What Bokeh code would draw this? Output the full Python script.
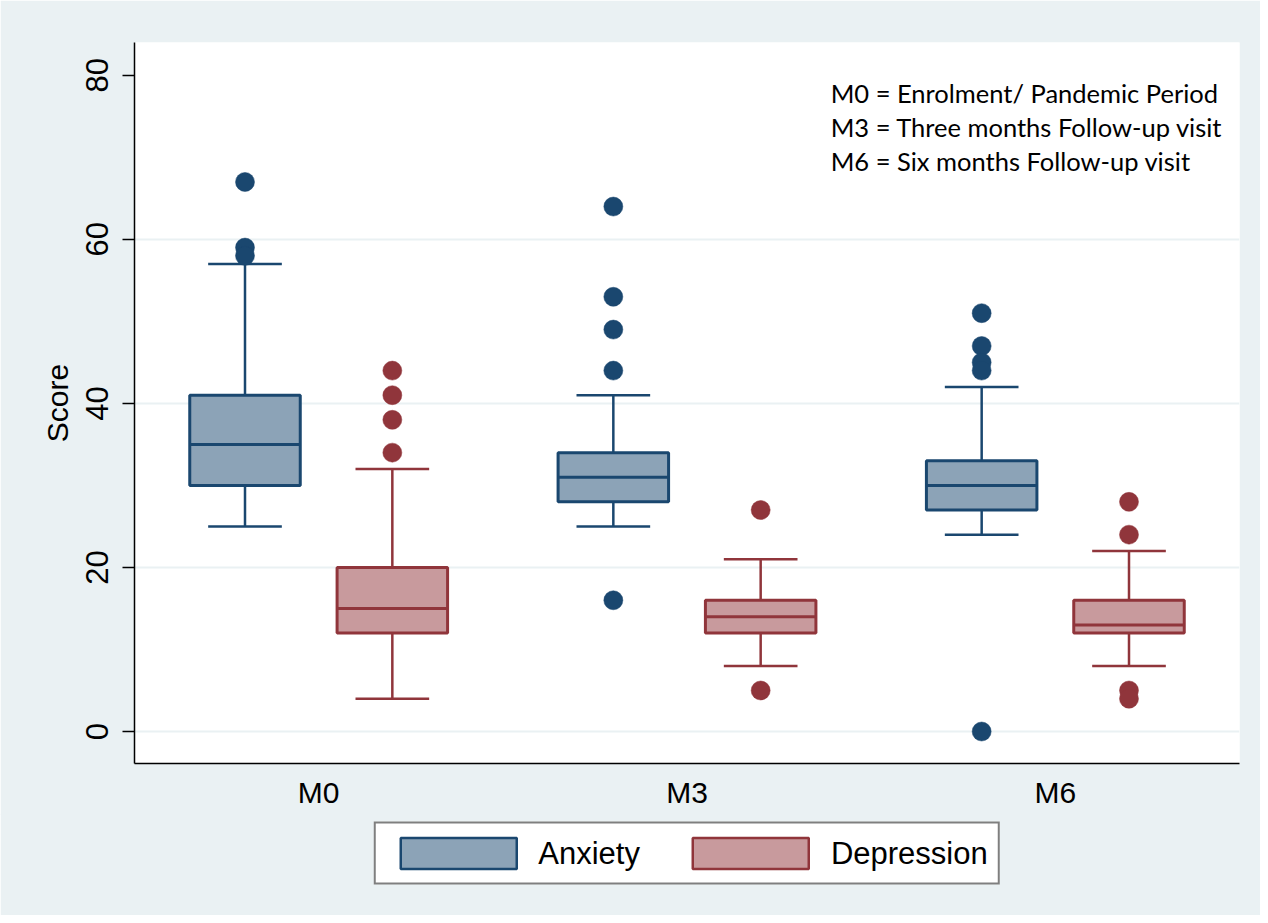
from bokeh.plotting import figure
from bokeh.layouts import column
from bokeh.models import (FactorRange, Range1d, FixedTicker, Legend, LegendItem,
                          Label, ColumnDataSource)
from bokeh.transform import dodge
from bokeh.embed import file_html
from bokeh.resources import INLINE

# ---------------- data ----------------
visits = ["M0", "M3", "M6"]

anx_low = [25, 25, 24]
anx_q1 = [30, 28, 27]
anx_med = [35, 31, 30]
anx_q3 = [41, 34, 33]
anx_high = [57, 41, 42]
anx_out_visit = ["M0", "M0", "M0", "M3", "M3", "M3", "M3", "M3", "M6", "M6", "M6", "M6", "M6"]
anx_out_val = [67, 59, 58, 64, 53, 49, 44, 16, 51, 47, 45, 44, 0]

dep_low = [4, 8, 8]
dep_q1 = [12, 12, 12]
dep_med = [15, 14, 13]
dep_q3 = [20, 16, 16]
dep_high = [32, 21, 22]
dep_out_visit = ["M0", "M0", "M0", "M0", "M3", "M3", "M6", "M6", "M6", "M6"]
dep_out_val = [44, 41, 38, 34, 27, 5, 28, 24, 5, 4]

notes = ["M0 = Enrolment/ Pandemic Period",
         "M3 = Three months Follow-up visit",
         "M6 = Six months Follow-up visit"]
note_y = [77.8, 73.7, 69.6]
y_ticks = [0, 20, 40, 60, 80]

# ---------------- main figure ----------------
BG = "#eaf1f3"
W = 1260
p = figure(x_range=FactorRange(*visits, range_padding=0), y_range=Range1d(-3.9, 84),
           width=W, height=815, output_backend="svg", toolbar_location=None,
           min_border_left=134, min_border_top=42, min_border_right=21, min_border_bottom=52)
p.background_fill_color = "white"
p.border_fill_color = BG
p.outline_line_color = None

p.xgrid.visible = False
p.ygrid.ticker = FixedTicker(ticks=[0, 20, 40, 60])
p.ygrid.grid_line_color = BG
p.ygrid.grid_line_width = 2

p.yaxis.ticker = FixedTicker(ticks=y_ticks)
p.yaxis.major_label_orientation = "vertical"
p.yaxis.major_label_text_font = "Liberation Sans"
p.yaxis.major_label_text_font_size = "31px"
p.yaxis.major_label_text_color = "black"
p.yaxis.major_tick_out = 12
p.yaxis.major_tick_in = 0
p.yaxis.minor_tick_out = 0
p.yaxis.minor_tick_in = 0
p.yaxis.major_tick_line_width = 1.5
p.yaxis.major_label_standoff = 14
p.yaxis.axis_label = "Score"
p.yaxis.axis_label_text_font = "Liberation Sans"
p.yaxis.axis_label_text_font_style = "normal"
p.yaxis.axis_label_text_font_size = "30px"
p.yaxis.axis_label_text_color = "black"
p.yaxis.axis_label_standoff = 10
p.yaxis.axis_line_width = 1.5

p.xaxis.major_tick_out = 0
p.xaxis.major_tick_in = 0
p.xaxis.major_label_text_font = "Liberation Sans"
p.xaxis.major_label_text_font_size = "30px"
p.xaxis.major_label_text_color = "black"
p.xaxis.major_label_standoff = 12
p.xaxis.axis_line_width = 1.5

series = [
    ("Anxiety", -0.2, "#1a476f", "#8ca3b7", anx_low, anx_q1, anx_med, anx_q3, anx_high,
     anx_out_visit, anx_out_val),
    ("Depression", 0.2, "#90353b", "#c89a9d", dep_low, dep_q1, dep_med, dep_q3, dep_high,
     dep_out_visit, dep_out_val),
]

BW = 0.3
CW = 0.2
for name, off, line, fill, lo, q1, med, q3, hi, ov, oval in series:
    src = ColumnDataSource(dict(visit=visits, lo=lo, q1=q1, med=med, q3=q3, hi=hi))
    xc = dodge("visit", off, range=p.x_range)
    p.segment(x0=xc, x1=xc, y0="q3", y1="hi", source=src, line_color=line, line_width=2.5)
    p.segment(x0=xc, x1=xc, y0="lo", y1="q1", source=src, line_color=line, line_width=2.5)
    p.segment(x0=dodge("visit", off - CW / 2, range=p.x_range),
              x1=dodge("visit", off + CW / 2, range=p.x_range),
              y0="hi", y1="hi", source=src, line_color=line, line_width=2.5)
    p.segment(x0=dodge("visit", off - CW / 2, range=p.x_range),
              x1=dodge("visit", off + CW / 2, range=p.x_range),
              y0="lo", y1="lo", source=src, line_color=line, line_width=2.5)
    p.vbar(x=xc, width=BW, bottom="q1", top="q3", source=src,
           fill_color=fill, line_color=line, line_width=3)
    p.segment(x0=dodge("visit", off - BW / 2, range=p.x_range),
              x1=dodge("visit", off + BW / 2, range=p.x_range),
              y0="med", y1="med", source=src, line_color=line, line_width=3)
    osrc = ColumnDataSource(dict(visit=ov, val=oval))
    p.scatter(x=dodge("visit", off, range=p.x_range), y="val", source=osrc,
              size=19, fill_color=line, line_color=line, line_width=0.5)

for txt, yy in zip(notes, note_y):
    p.add_layout(Label(x=1.89, y=yy, text=txt, text_font="Lato", text_font_size="25.5px",
                       text_baseline="middle", text_color="black"))

# ---------------- legend strip (figure below the chart) ----------------
lg = figure(width=W, height=102, output_backend="svg", toolbar_location=None,
            x_range=FactorRange(*visits), y_range=Range1d(0, 1),
            min_border_left=134, min_border_right=21, min_border_top=0, min_border_bottom=22)
lg.margin = (-2, 0, 0, 0)
lg.axis.visible = False
lg.grid.visible = False
lg.outline_line_color = BG
lg.outline_line_width = 4
lg.background_fill_color = BG
lg.border_fill_color = BG

items = []
for name, off, line, fill, lo, q1, med, q3, hi, ov, oval in series:
    s = ColumnDataSource(dict(visit=visits, q1=q1, q3=q3))
    r = lg.vbar(x=dodge("visit", off, range=lg.x_range), top="q3", bottom="q1", source=s,
                width=BW, fill_color=fill, line_color=line, line_width=2.5, visible=False)
    items.append(LegendItem(label=name, renderers=[r]))

legend = Legend(items=items, orientation="horizontal", location="center",
                border_line_color="black", border_line_width=2,
                background_fill_color="white", background_fill_alpha=1,
                inactive_fill_alpha=0,
                padding=10, spacing=38, glyph_width=145, glyph_height=39,
                label_standoff=8, label_text_font="Liberation Sans",
                label_text_color="black",
                label_text_font_size="31px", margin=0)
lg.add_layout(legend, "center")

layout = column(p, lg, spacing=0)
open("out.html", "w").write(file_html(layout, INLINE))
